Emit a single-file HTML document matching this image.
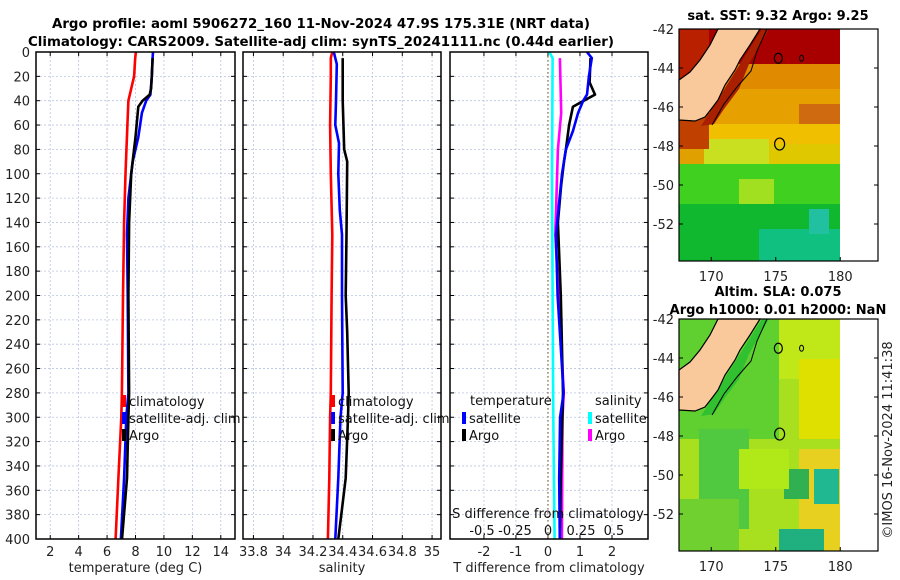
<!DOCTYPE html>
<html><head><meta charset="utf-8">
<style>
html,body{margin:0;padding:0;background:#fff;}
svg{display:block;font-family:"DejaVu Sans","Liberation Sans",sans-serif;}
</style></head>
<body>
<svg id="fig" width="900" height="580" viewBox="0 0 900 580" xmlns="http://www.w3.org/2000/svg">
<text x="321" y="28" text-anchor="middle" font-weight="bold" font-size="13" textLength="538" lengthAdjust="spacingAndGlyphs">Argo profile: aoml 5906272_160 11-Nov-2024 47.9S 175.31E (NRT data)</text>
<text x="321" y="46" text-anchor="middle" font-weight="bold" font-size="13" textLength="586" lengthAdjust="spacingAndGlyphs">Climatology: CARS2009. Satellite-adj clim: synTS_20241111.nc (0.44d earlier)</text>
<g id="panels"></g>
<g id="maps"></g>
</svg>
<script>
// ---- data ----
const depthTicks = [0,20,40,60,80,100,120,140,160,180,200,220,240,260,280,300,320,340,360,380,400];
const tTicks = [2,4,6,8,10,12,14];
const sTicks = [33.8,34,34.2,34.4,34.6,34.8,35];
const sTickLabels = ['33.8','34','34.2','34.4','34.6','34.8','35'];
const dTTicks = [-2,-1,0,1,2];
const dSTicks = [-0.5,-0.25,0,0.25,0.5];
const dSTickLabels = ['-0.5','-0.25','0','0.25','0.5'];

const climTDepth = [0,5,20,40,60,100,140,200,280,300,350,400];
const climT      = [8.03,7.98,7.9,7.5,7.43,7.3,7.2,7.12,7.04,7.0,6.8,6.6];
const satTDepth  = [0,5,20,35,40,50,70,90,120,150,200,280,300,350,400];
const satT       = [9.23,9.2,9.15,9.05,8.75,8.45,8.2,7.8,7.5,7.4,7.45,7.5,7.35,7.2,6.97];
const argoTDepth = [5,20,30,35,40,45,70,100,140,200,280,300,350,400];
const argoT      = [9.2,9.15,9.1,9.0,8.5,8.2,8.0,7.7,7.55,7.5,7.55,7.5,7.4,7.05];

const climSDepth = [0,5,20,60,100,150,200,280,300,350,400];
const climS      = [34.33,34.32,34.32,34.315,34.32,34.33,34.325,34.32,34.315,34.31,34.30];
const satSDepth  = [0,10,40,60,75,100,130,150,200,280,300,350,400];
const satS       = [34.34,34.36,34.355,34.35,34.375,34.37,34.38,34.395,34.395,34.4,34.385,34.37,34.35];
const argoSDepth = [5,40,80,90,150,200,230,280,300,350,380,400];
const argoS      = [34.40,34.40,34.41,34.43,34.425,34.42,34.43,34.44,34.435,34.42,34.39,34.37];

const satDTDepth  = [0,5,20,35,40,50,65,80,100,150,200,280,300,350,400];
const satDT       = [1.22,1.37,1.28,1.22,1.1,0.94,0.78,0.56,0.44,0.25,0.3,0.49,0.38,0.35,0.37];
const argoDTDepth = [5,25,35,40,45,60,80,90,110,140,200,280,300,350,400];
const argoDT      = [1.33,1.3,1.47,1.12,0.78,0.66,0.56,0.5,0.41,0.31,0.4,0.47,0.45,0.4,0.37];
const satDSDepth  = [0,5,100,200,300,400];
const satDS       = [0.01,0.035,0.03,0.035,0.04,0.05];
const argoDSDepth = [5,50,80,150,200,280,300,400];
const argoDS      = [0.09,0.1,0.075,0.055,0.08,0.12,0.11,0.105];

const NS='http://www.w3.org/2000/svg';
function el(tag,attrs,parent,text){const e=document.createElementNS(NS,tag);for(const k in attrs)e.setAttribute(k,attrs[k]);if(text!==undefined)e.textContent=text;parent.appendChild(e);return e;}
const Y0=52,Y1=539;
const yScale=d=>Y0+(d/400)*(Y1-Y0);
const panelsG=document.getElementById('panels');

function panel(name,x0,x1,vmin,vmax){
  const g=el('g',{},panelsG);
  
  
  return {g,x:v=>x0+(v-vmin)/(vmax-vmin)*(x1-x0),x0,x1};
}
function frame(p,xt,xtl,title,leftLabels){
  const g=p.g;
  for(const d of depthTicks){const y=yScale(d);
    el('line',{x1:p.x0,x2:p.x1,y1:y,y2:y,stroke:'#b8c4e0','stroke-width':0.8,'stroke-dasharray':'2,2'},g);
    el('line',{x1:p.x0,x2:p.x0+4,y1:y,y2:y,stroke:'#000'},g);
    el('line',{x1:p.x1-4,x2:p.x1,y1:y,y2:y,stroke:'#000'},g);
    if(leftLabels){const t=el('text',{x:p.x0-6,y:y+5,'text-anchor':'end','font-size':13,fill:'#222'},g,String(d));
      }
  }
  xt.forEach((v,i)=>{const x=p.x(v);
    el('line',{x1:x,x2:x,y1:Y0,y2:Y1,stroke:'#b8c4e0','stroke-width':0.8,'stroke-dasharray':'2,2'},g);
    el('line',{x1:x,x2:x,y1:Y1,y2:Y1-4,stroke:'#000'},g);
    el('line',{x1:x,x2:x,y1:Y0,y2:Y0+4,stroke:'#000'},g);
    const t=el('text',{x:x,y:556,'text-anchor':'middle','font-size':13,fill:'#222'},g,xtl[i]);
    
  });
  const t=el('text',{x:(p.x0+p.x1)/2,y:572,'text-anchor':'middle','font-size':13,fill:'#222'},g,title);
  
}
function line(p,vals,deps,color,name){
  const pts=vals.map((v,i)=>p.x(v).toFixed(1)+','+yScale(deps[i]).toFixed(1)).join(' ');
  const l=el('polyline',{points:pts,fill:'none',stroke:color,'stroke-width':2.6,'stroke-linejoin':'round'},p.g);
  
  
}
function box(p){el('rect',{x:p.x0,y:Y0,width:p.x1-p.x0,height:Y1-Y0,fill:'none',stroke:'#000','stroke-width':1.5},p.g);}
function legend(g,x,y,color,label,name){
  el('rect',{x:x-3,y:y-10,width:4,height:12,fill:color},g);
  const t=el('text',{x:x+4,y:y+1,'font-size':13,fill:'#111'},g,label);
  
}

// panel 1
const p1=panel('temperature-panel',36,235,1,15);
frame(p1,tTicks,tTicks.map(String),'temperature (deg C)',true);
line(p1,climT,climTDepth,'#f00','climatology-temperature-line');
line(p1,satT,satTDepth,'#00f','satellite-temperature-line');
line(p1,argoT,argoTDepth,'#000','argo-temperature-line');
legend(p1.g,125,405,'#f00','climatology','legend-climatology');
legend(p1.g,125,422,'#00f','satellite-adj. clim','legend-satellite');
legend(p1.g,125,439,'#000','Argo','legend-argo');
box(p1);

// panel 2
const p2=panel('salinity-panel',243,441,33.73,35.06);
frame(p2,sTicks,sTickLabels,'salinity',false);
line(p2,climS,climSDepth,'#f00','climatology-salinity-line');
line(p2,satS,satSDepth,'#00f','satellite-salinity-line');
line(p2,argoS,argoSDepth,'#000','argo-salinity-line');
legend(p2.g,334,405,'#f00','climatology','legend-climatology-s');
legend(p2.g,334,422,'#00f','satellite-adj. clim','legend-satellite-s');
legend(p2.g,334,439,'#000','Argo','legend-argo-s');
box(p2);

// panel 3
const p3=panel('difference-panel',450,648,-3.06,3.125);
const p3s={g:p3.g,x0:450,x1:648,x:v=>548+v*132};
frame(p3,dTTicks,dTTicks.map(String),'T difference from climatology',false);
el('line',{x1:p3.x(0),x2:p3.x(0),y1:Y0,y2:Y1,stroke:'#7a6a3a','stroke-width':1.2,'stroke-dasharray':'1.5,2.5'},p3.g);
line(p3s,satDS,satDSDepth,'#0ff','satellite-salinity-diff-line');
line(p3s,argoDS,argoDSDepth,'#f0f','argo-salinity-diff-line');
line(p3,argoDT,argoDTDepth,'#000','argo-temperature-diff-line');
line(p3,satDT,satDTDepth,'#00f','satellite-temperature-diff-line');
{const t=el('text',{x:470,y:405,'font-size':13,fill:'#111'},p3.g,'temperature');}
{const t=el('text',{x:595,y:405,'font-size':13,fill:'#111'},p3.g,'salinity');}
legend(p3.g,465,422,'#00f','satellite','legend-t-satellite');
legend(p3.g,465,439,'#000','Argo','legend-t-argo');
legend(p3.g,591,422,'#0ff','satellite','legend-s-satellite');
legend(p3.g,591,439,'#f0f','Argo','legend-s-argo');
{const t=el('text',{x:548,y:518,'text-anchor':'middle','font-size':13,fill:'#111'},p3.g,'S difference from climatology');}
dSTicks.forEach((v,i)=>{const t=el('text',{x:p3s.x(v),y:535,'text-anchor':'middle','font-size':13,fill:'#111'},p3.g,dSTickLabels[i]);
  });
box(p3);

// ---- maps ----
const mapsG=document.getElementById('maps');
const latTicks=[-42,-44,-46,-48,-50,-52];
const lonTicks=[170,175,180];
function map(name,top,title1,title2,patches,shelf){
  const g=el('g',{},mapsG);
  
  
  const X0=679,X1=878,XD=840,H=232;
  const lonX=l=>X0+(l-167.5)*12.9;
  const latY=l=>top+(-42-l)*19.5;
  patches.forEach(p=>el('rect',{x:X0+p[0],y:top+p[1],width:p[2],height:p[3],fill:p[4]},g));
  if(shelf){el('polygon',{points:[[83,0],[90,0],[70,35],[60,60],[45,80],[35,95],[22,97]].map(q=>(X0+q[0])+','+(top+q[1])).join(' '),fill:shelf},g);}
  const land=[[39,0],[81,0],[71,16],[61,31],[56,41],[46,56],[39,71],[33,79],[26,88],[16,92],[0,91],[0,51],[11,43],[21,31],[31,16]];
  el('polygon',{points:land.map(q=>(X0+q[0])+','+(top+q[1])).join(' '),fill:'#f9c99c',stroke:'#000','stroke-width':1.2},g);
  el('path',{d:`M${X0+33} ${top+96} L${X0+45} ${top+75} L${X0+58} ${top+58} L${X0+72} ${top+42} L${X0+78} ${top+22} L${X0+88} ${top+0}`,fill:'none',stroke:'#000','stroke-width':1},g);
  el('ellipse',{cx:lonX(175.3),cy:latY(-47.9),rx:5,ry:6,fill:'none',stroke:'#000','stroke-width':1.2},g);
  el('ellipse',{cx:lonX(175.2),cy:latY(-43.5),rx:4,ry:5,fill:'none',stroke:'#000','stroke-width':1.2},g);
  el('ellipse',{cx:lonX(177),cy:latY(-43.5),rx:2,ry:3,fill:'none',stroke:'#000','stroke-width':1},g);
  el('rect',{x:XD,y:top,width:X1-XD,height:H,fill:'#fff'},g);
  el('rect',{x:X0,y:top,width:X1-X0,height:H,fill:'none',stroke:'#000','stroke-width':1.2},g);
  latTicks.forEach(l=>{const y=latY(l);
    el('line',{x1:X0,x2:X0+4,y1:y,y2:y,stroke:'#000'},g);el('line',{x1:X1-4,x2:X1,y1:y,y2:y,stroke:'#000'},g);
    const t=el('text',{x:X0-5,y:y+5,'text-anchor':'end','font-size':13,fill:'#222'},g,String(l));
    });
  lonTicks.forEach(l=>{const x=lonX(l);
    el('line',{x1:x,x2:x,y1:top+H,y2:top+H-4,stroke:'#000'},g);
    const t=el('text',{x:x,y:top+H+20,'text-anchor':'middle','font-size':13,fill:'#222'},g,String(l));
    });
  const t1=el('text',{x:778,y:top-(title2?23:9),'text-anchor':'middle','font-weight':'bold','font-size':13},g,title1);
  
  if(title2){const t2=el('text',{x:778,y:top-5,'text-anchor':'middle','font-weight':'bold','font-size':13},g,title2);
    }
}
map('sst-map',29,'sat. SST: 9.32 Argo: 9.25',null,[
 [0,0,161,232,'#20c020'],
 [0,0,161,45,'#a80000'],
 [40,35,121,25,'#e08a00'],
 [0,60,161,40,'#e6a000'],
 [120,75,41,30,'#d06a10'],
 [0,95,161,25,'#f0c000'],
 [0,110,90,25,'#c8e020'],
 [0,120,25,30,'#e0a000'],
 [90,115,71,20,'#e0c800'],
 [0,135,161,40,'#40d020'],
 [60,150,35,25,'#a0e020'],
 [0,175,161,57,'#10b830'],
 [80,200,81,32,'#10c080'],
 [130,180,20,25,'#20c0a0'],
 [0,0,30,80,'#b82000'],
 [0,80,30,40,'#c04000']
],'#a82000');
map('sla-map',319,'Altim. SLA: 0.075','Argo h1000: 0.01 h2000: NaN',[
 [0,0,161,232,'#a8e020'],
 [0,0,100,120,'#60d030'],
 [20,110,50,100,'#50c840'],
 [100,0,61,60,'#c0e818'],
 [140,70,21,40,'#e8a020'],
 [120,40,41,80,'#e0e000'],
 [120,130,41,102,'#e8d020'],
 [135,150,25,35,'#20b890'],
 [105,150,25,30,'#30b050'],
 [100,210,45,22,'#20b080'],
 [60,130,50,40,'#b0e818'],
 [0,180,60,52,'#70d030']
],'#30c030');
{const t=el('text',{x:0,y:0,'font-size':13,fill:'#222','text-anchor':'middle',transform:'translate(892,440) rotate(-90)'},mapsG,'©IMOS 16-Nov-2024 11:41:38');
 }
</script>
</body></html>
